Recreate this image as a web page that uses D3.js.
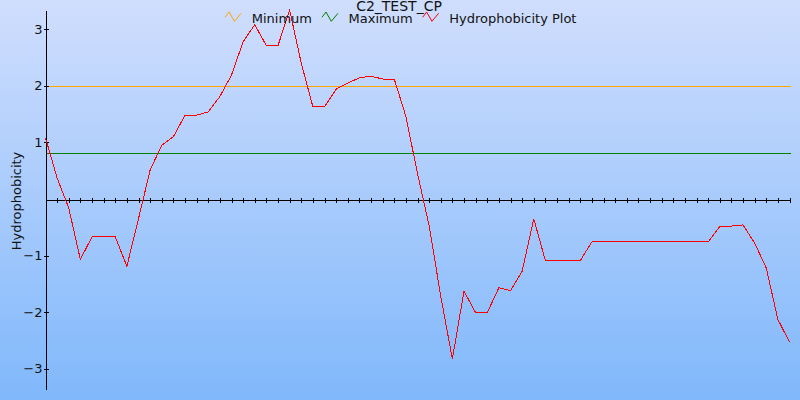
<!DOCTYPE html>
<html>
<head>
<meta charset="utf-8">
<script src="https://cdn.jsdelivr.net/npm/d3@7"></script>
<style>
  html, body { margin: 0; padding: 0; }
  svg { display: block; font-family: "DejaVu Sans", sans-serif; }
</style>
</head>
<body>
<svg id="chart" width="800" height="400"></svg>
<script>
const chartTitle = "C2_TEST_CP";
const yAxisLabel = "Hydrophobicity";
const seriesNames = ["Minimum", "Maximum", "Hydrophobicity Plot"];
const seriesColors = ["#ffa500", "#008000", "#ff0000"];
const minimumLevel = 2.0;
const maximumLevel = 0.81;
const hydrophobicity = [
  1.08, 0.37, -0.16, -1.07, -0.67, -0.67, -0.67, -1.19, -0.35, 0.51,
  0.95, 1.10, 1.48, 1.48, 1.54, 1.81, 2.19, 2.78, 3.08, 2.71,
  2.71, 3.34, 2.40, 1.63, 1.63, 1.94, 2.05, 2.14, 2.17, 2.12,
  2.12, 1.46, 0.45, -0.47, -1.72, -2.83, -1.63, -2.01, -2.01, -1.57,
  -1.62, -1.28, -0.35, -1.09, -1.09, -1.09, -1.09, -0.76, -0.76, -0.76,
  -0.76, -0.76, -0.76, -0.76, -0.76, -0.76, -0.76, -0.76, -0.49, -0.48,
  -0.46, -0.78, -1.22, -2.13, -2.53
];
const yTickValues = [3, 2, 1, -1, -2, -3];

const svg = d3.select("#chart");
const W = 800, H = 400;

// background gradient
const defs = svg.append("defs");
const grad = defs.append("linearGradient").attr("id", "bg")
  .attr("x1", 0).attr("y1", 0).attr("x2", 0).attr("y2", 1);
grad.append("stop").attr("offset", "0%").attr("stop-color", "#d0defd");
grad.append("stop").attr("offset", "100%").attr("stop-color", "#80b8fb");
svg.append("rect").attr("width", W).attr("height", H).attr("fill", "url(#bg)");

const x = d3.scaleLinear().domain([0, hydrophobicity.length - 1]).range([45.5, 789.5]);
const y = d3.scaleLinear().domain([-3.36, 3.34]).range([389, 10]);

// threshold lines
svg.append("line")
  .attr("x1", x(0)).attr("x2", x(hydrophobicity.length - 1) + 1)
  .attr("y1", Math.round(y(minimumLevel)) + 0.5).attr("y2", Math.round(y(minimumLevel)) + 0.5)
  .attr("stroke", seriesColors[0]).attr("stroke-width", 1).attr("shape-rendering", "crispEdges");
svg.append("line")
  .attr("x1", x(0)).attr("x2", x(hydrophobicity.length - 1) + 1)
  .attr("y1", Math.round(y(maximumLevel)) + 0.5).attr("y2", Math.round(y(maximumLevel)) + 0.5)
  .attr("stroke", seriesColors[1]).attr("stroke-width", 1).attr("shape-rendering", "crispEdges");

// x axis at zero
const xAxis = d3.axisBottom(x)
  .tickValues(d3.range(1, hydrophobicity.length))
  .tickFormat("")
  .tickSizeOuter(0);
const gx = svg.append("g").attr("transform", `translate(0,${Math.round(y(0)) + 0.5})`).call(xAxis);
gx.select(".domain").attr("stroke", "#000").attr("shape-rendering", "crispEdges");
gx.selectAll(".tick line").attr("y1", -2).attr("y2", 3).attr("stroke", "#000").attr("shape-rendering", "crispEdges");

// y axis
const yAxis = d3.axisLeft(y)
  .tickValues(yTickValues)
  .tickFormat(d3.format("d"))
  .tickSizeOuter(0);
const gy = svg.append("g").attr("transform", `translate(${x(0)},0)`).call(yAxis);
gy.select(".domain").attr("stroke", "#000").attr("shape-rendering", "crispEdges");
gy.selectAll(".tick line").attr("x1", -2).attr("x2", 3).attr("stroke", "#000").attr("shape-rendering", "crispEdges");
gy.selectAll(".tick text")
  .attr("x", -3)
  .attr("font-family", "DejaVu Sans, sans-serif")
  .attr("font-size", 13)
  .attr("fill", "#111");

// data line
const line = d3.line().x((d, i) => x(i)).y(d => y(d));
svg.append("path")
  .datum(hydrophobicity)
  .attr("d", line)
  .attr("fill", "none")
  .attr("stroke", seriesColors[2])
  .attr("stroke-width", 1)
  .attr("shape-rendering", "crispEdges");

// title
svg.append("text")
  .attr("x", 399).attr("y", 10.5)
  .attr("text-anchor", "middle")
  .attr("font-size", 14)
  .attr("fill", "#111")
  .text(chartTitle);

// y axis label
svg.append("text")
  .attr("transform", "translate(21,201) rotate(-90)")
  .attr("text-anchor", "middle")
  .attr("font-size", 13)
  .attr("fill", "#111")
  .text(yAxisLabel);

// legend
const legend = svg.append("g");
const items = legend.selectAll("g").data(seriesNames).join("g");
items.append("path")
  .attr("d", "M0,17.3 L4,12 L9.3,21.3 L16,13.3")
  .attr("fill", "none")
  .attr("stroke", (d, i) => seriesColors[i])
  .attr("stroke-width", 1);
items.append("text")
  .attr("x", 26.6).attr("y", 23)
  .attr("font-size", 13)
  .attr("fill", "#111")
  .text(d => d);
let cursor = 0;
const widths = [];
items.each(function() {
  const tw = d3.select(this).select("text").node().getComputedTextLength();
  widths.push(26.6 + tw);
});
const total = d3.sum(widths) + 10 * (widths.length - 1);
cursor = 400.8 - total / 2;
items.attr("transform", (d, i) => {
  const t = `translate(${cursor},0)`;
  cursor += widths[i] + 10;
  return t;
});
</script>
</body>
</html>
